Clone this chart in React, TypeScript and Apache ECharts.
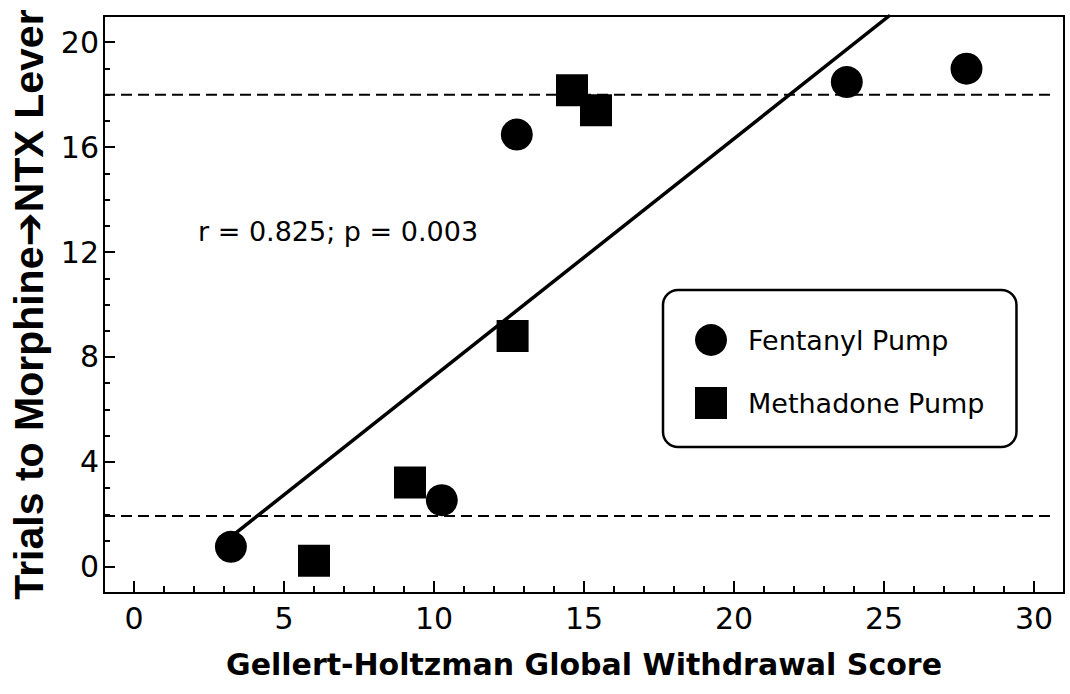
import React, { useEffect, useRef } from "react";
import * as echarts from "echarts";

// ---- data ----
const fentanylX = [3.23, 10.26, 12.76, 23.76, 27.75];
const fentanylY = [0.76, 2.54, 16.48, 18.48, 18.99];
const methadoneX = [6.0, 9.2, 12.62, 14.6, 15.4];
const methadoneY = [0.23, 3.21, 8.8, 18.17, 17.41];
const fitX = [3.23, 25.2];
const fitY = [1.14, 21.03];
const criterionX = [-1, 30.63];
const upperCriterion = 18;
const lowerCriterion = 1.94;

const xMajorTicks = [0, 5, 10, 15, 20, 25, 30];
const xMinorTicks = [1, 2, 3, 4, 6, 7, 8, 9, 11, 12, 13, 14, 16, 17, 18, 19, 21, 22, 23, 24, 26, 27, 28, 29];
const yMajorTicks = [0, 4, 8, 12, 16, 20];
const yMinorTicks = [1, 2, 3, 5, 6, 7, 9, 10, 11, 13, 14, 15, 17, 18, 19];

const seriesNames = ["Fentanyl Pump", "Methadone Pump"];
const xTitle = "Gellert-Holtzman Global Withdrawal Score";
const yTitle = "Trials to Morphine\u2794NTX Lever";
const statText = "r = 0.825; p = 0.003";

const pairs = (xs: number[], ys: number[]) => xs.map((x, i) => [x, ys[i]]);

export default function App() {
  const ref = useRef<HTMLDivElement>(null);
  useEffect(() => {
    if (!ref.current) return;
    const chart = echarts.init(ref.current, null, { renderer: "svg" });
    const font = "DejaVu Sans";
    const black = "#000";
    const option: any = {
      animation: false,
      backgroundColor: "#fff",
      grid: {
        left: 104,
        right: 6,
        top: 16,
        bottom: 101,
        show: true,
        borderColor: black,
        borderWidth: 2,
        containLabel: false,
      },
      xAxis: [
        {
          type: "value",
          min: -1,
          max: 31,
          name: xTitle,
          nameLocation: "middle",
          nameGap: 56,
          nameTextStyle: { fontFamily: font, fontWeight: "bold", fontSize: 30, color: black },
          axisLine: { show: true, onZero: false, lineStyle: { color: black, width: 2 } },
          axisTick: { show: true, inside: true, length: 12, customValues: xMajorTicks, lineStyle: { color: black, width: 2 } },
          axisLabel: { show: true, customValues: xMajorTicks, fontFamily: font, fontSize: 30, color: black, margin: 10 },
          splitLine: { show: false },
        },
        {
          type: "value",
          min: -1,
          max: 31,
          position: "bottom",
          axisLine: { show: false, onZero: false },
          axisTick: { show: true, inside: true, length: 7, customValues: xMinorTicks, lineStyle: { color: black, width: 2 } },
          axisLabel: { show: false },
          splitLine: { show: false },
        },
      ],
      yAxis: [
        {
          type: "value",
          min: -1,
          max: 21,
          name: yTitle,
          nameLocation: "middle",
          nameRotate: 90,
          nameGap: 52,
          nameTextStyle: { fontFamily: "Liberation Sans, DejaVu Sans", fontWeight: "bold", fontSize: 41, color: black },
          axisLine: { show: true, onZero: false, lineStyle: { color: black, width: 2 } },
          axisTick: { show: true, inside: true, length: 11, customValues: yMajorTicks, lineStyle: { color: black, width: 2 } },
          axisLabel: { show: true, customValues: yMajorTicks, fontFamily: font, fontSize: 30, color: black, margin: 5 },
          splitLine: { show: false },
        },
        {
          type: "value",
          min: -1,
          max: 21,
          position: "left",
          axisLine: { show: false, onZero: false },
          axisTick: { show: true, inside: true, length: 6, customValues: yMinorTicks, lineStyle: { color: black, width: 2 } },
          axisLabel: { show: false },
          splitLine: { show: false },
        },
      ],
      legend: {
        data: seriesNames,
        orient: "vertical",
        left: 663,
        top: 290,
        padding: [34, 32, 28, 32],
        itemGap: 31,
        itemWidth: 32,
        itemHeight: 32,
        borderColor: black,
        borderWidth: 2.5,
        borderRadius: 15,
        itemStyle: { opacity: 1 },
        textStyle: { fontFamily: font, fontSize: 27, color: black, padding: [0, 0, 0, 16] },
      },
      graphic: [
        {
          type: "text",
          left: 198,
          top: 218,
          style: { text: statText, fontFamily: font, fontSize: 27, fill: black },
        },
      ],
      series: [
        {
          type: "line",
          name: "upper",
          data: pairs(criterionX, [upperCriterion, upperCriterion]),
          showSymbol: false,
          symbol: "none",
          lineStyle: { color: black, width: 2, type: [11, 6] },
          z: 1,
        },
        {
          type: "line",
          name: "lower",
          data: pairs(criterionX, [lowerCriterion, lowerCriterion]),
          showSymbol: false,
          symbol: "none",
          lineStyle: { color: black, width: 2, type: [11, 6] },
          z: 1,
        },
        {
          type: "line",
          name: "fit",
          data: pairs(fitX, fitY),
          showSymbol: false,
          symbol: "none",
          clip: true,
          lineStyle: { color: black, width: 3.5 },
          z: 2,
        },
        {
          type: "scatter",
          name: seriesNames[0],
          data: pairs(fentanylX, fentanylY),
          symbol: "circle",
          symbolSize: 32,
          itemStyle: { color: black, opacity: 1 },
          z: 3,
        },
        {
          type: "scatter",
          name: seriesNames[1],
          data: pairs(methadoneX, methadoneY),
          symbol: "rect",
          symbolSize: 32,
          itemStyle: { color: black, opacity: 1 },
          z: 3,
        },
      ],
    };
    chart.setOption(option);
    return () => chart.dispose();
  }, []);
  return (
    <div
      ref={ref}
      style={{ position: "fixed", left: 0, top: 0, width: 1070, height: 694, background: "#fff" }}
    />
  );
}
